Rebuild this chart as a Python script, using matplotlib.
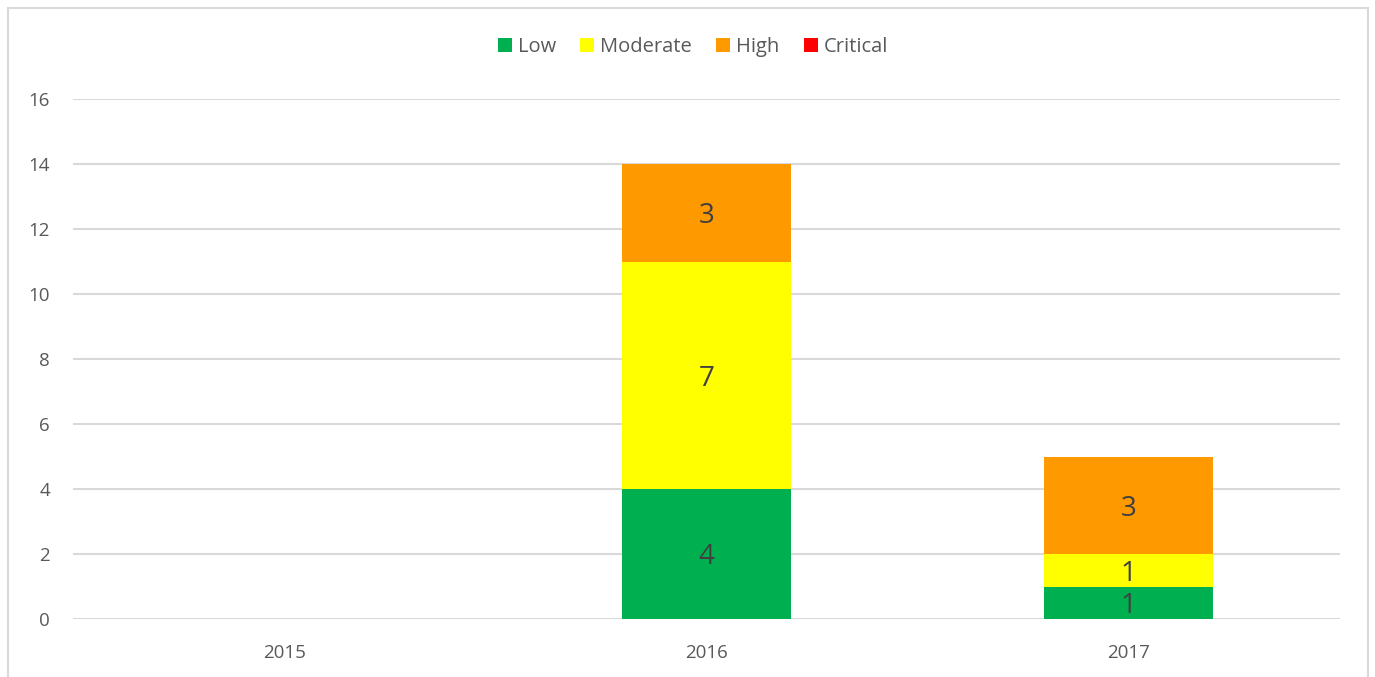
import matplotlib
matplotlib.use("Agg")
import matplotlib.pyplot as plt
from matplotlib.patches import Rectangle, Patch
import numpy as np

plt.rcParams['font.family'] = ['Open Sans', 'DejaVu Sans']

years = ["2015", "2016", "2017"]
series_names = ["Low", "Moderate", "High", "Critical"]
low = [0, 4, 1]
moderate = [0, 7, 1]
high = [0, 3, 3]
critical = [0, 0, 0]
colors = ["#00b050", "#ffff00", "#ff9900", "#ff0000"]
yticks = [0, 2, 4, 6, 8, 10, 12, 14, 16]

fig = plt.figure(figsize=(13.75, 6.77), dpi=100)
ax = fig.add_axes([73/1375, 1-619/677, (1340-73)/1375, (619-99)/677])

x = np.arange(len(years))
bottom = np.zeros(len(years))
for name, vals, c in zip(series_names, [low, moderate, high, critical], colors):
    vals = np.array(vals, dtype=float)
    ax.bar(x, vals, width=0.4, bottom=bottom, color=c, label=name, zorder=3)
    for xi, v, b in zip(x, vals, bottom):
        if v > 0:
            ax.text(xi, b + v/2, f"{int(v)}", ha="center", va="center_baseline",
                    fontsize=20, color="#404040", zorder=4)
    bottom += vals

ax.set_xlim(-0.5, 2.5)
ax.set_ylim(0, 16)
ax.set_yticks(yticks)
ax.set_xticks(x)
ax.set_xticklabels(years)
ax.yaxis.grid(True, color="#d9d9d9", linewidth=1.5, zorder=0)
ax.set_axisbelow(True)
for s in ax.spines.values():
    s.set_visible(False)
ax.tick_params(axis="both", length=0, labelsize=13.5, colors="#595959")
ax.tick_params(axis="y", pad=16.5)
ax.tick_params(axis="x", pad=18)

handles = [Patch(facecolor=c, label=n) for n, c in zip(series_names, colors)]
fig.legend(handles=handles, loc="center", bbox_to_anchor=(693/1375, 1-47/677),
           ncol=4, frameon=False, fontsize=14.5, handlelength=0.7, handleheight=0.7,
           handletextpad=0.3, columnspacing=1.2, labelcolor="#595959")

fig.add_artist(Rectangle((8/1375, -0.05), (1368-8)/1375, 1-8/677+0.05,
                         transform=fig.transFigure, fill=False,
                         edgecolor="#d9d9d9", linewidth=1.5))

fig.savefig("out.png", dpi=100)
